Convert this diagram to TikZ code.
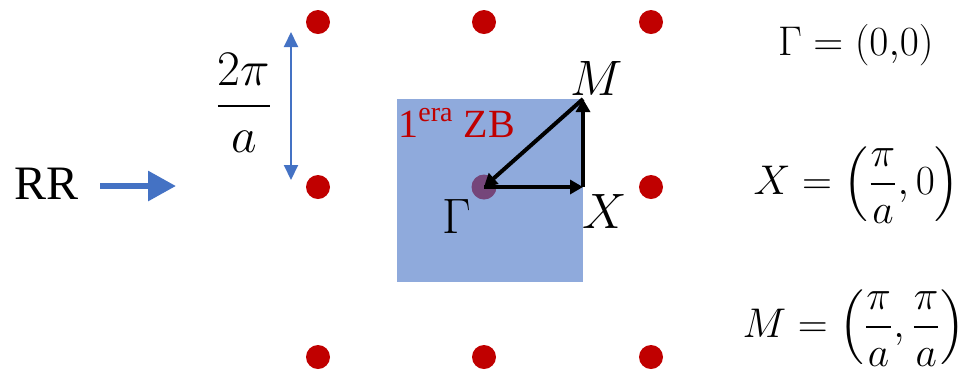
\documentclass[tikz,border=0pt]{standalone}
\usepackage{amsmath}
\usepackage{fontspec}
\setmainfont{Liberation Serif}
\usetikzlibrary{arrows.meta}
\definecolor{latred}{RGB}{192,0,0}
\definecolor{zbblue}{RGB}{143,170,220}
\definecolor{rrblue}{RGB}{68,114,196}
\definecolor{gampurple}{RGB}{117,70,122}
\tikzset{
  latt/.style={circle,fill=latred,inner sep=0pt,minimum size=12pt},
  kpath/.style={-{Triangle[length=6.5pt,width=7pt]},line width=2pt,black},
  klabel/.style={font=\fontsize{23}{26}\selectfont},
  eqn/.style={anchor=east,inner sep=0pt,font=\fontsize{22}{26}\selectfont}
}
\begin{document}
\begin{tikzpicture}[x=0.5pt,y=-0.5pt]
  % Coordinates are pixels of a 966x382 frame, y pointing down.
  \useasboundingbox (0,0) rectangle (966,382);
  \fill[zbblue] (397,99) rectangle (583,282);
  \foreach \i/\x in {1/318,2/484,3/651}{
    \foreach \j/\y in {1/22,2/187,3/357}{
      \node[latt] (d\i\j) at (\x,\y) {};}}
  \node[circle,fill=gampurple,inner sep=0pt,minimum size=12.5pt] (gam) at (484,187) {};
  \coordinate (G) at (484,187);
  \coordinate (Xp) at (583,187);
  \coordinate (Mp) at (583,99);
  \draw[kpath] (G) -- (Xp);
  \draw[kpath] (Xp) -- (Mp);
  \draw[kpath] (Mp) -- (G);
  \node[klabel] (lM) at (597,78) {$M$};
  \node[klabel] (lX) at (605,211) {$X$};
  \node[klabel] (lG) at (457,216) {$\Gamma$};
  \node[anchor=base west,inner sep=0pt,text=latred,font=\rmfamily\fontsize{20}{22}\selectfont] (zb) at (398,137) {1\textsuperscript{era} ZB};
  % left side
  \node[anchor=base,inner sep=0pt,font=\rmfamily\fontsize{24}{26}\selectfont] (rr) at (47,199) {RR};
  \coordinate (rrs) at (100,186);
  \coordinate (rre) at (176,186);
  \draw[rrblue,line width=3pt,-{Triangle[length=14pt,width=14.5pt]}] (rrs) -- (rre);
  \coordinate (pa) at (291,32);
  \coordinate (pb) at (291,180);
  \draw[rrblue,line width=1pt,{Triangle[length=7.5pt,width=7pt]}-{Triangle[length=7.5pt,width=7pt]}] (pa) -- (pb);
  \node[font=\fontsize{24}{26}\selectfont] (per) at (244,103) {$\displaystyle\frac{2\pi}{a}$};
  % high symmetry points
  \node[eqn] (eqG) at (934,45) {$\Gamma=(0{,}0)$};
  \node[eqn] (eqX) at (960,185) {$X=\left(\dfrac{\pi}{a},0\right)$};
  \node[eqn] (eqM) at (966,328) {$M=\left(\dfrac{\pi}{a},\dfrac{\pi}{a}\right)$};
\end{tikzpicture}
\end{document}
